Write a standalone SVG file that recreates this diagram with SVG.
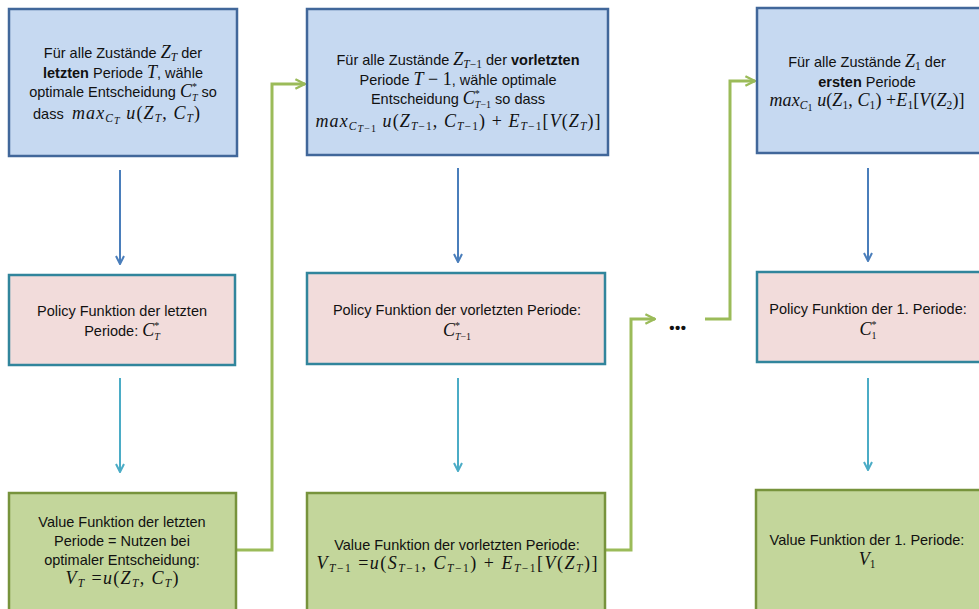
<svg xmlns="http://www.w3.org/2000/svg" width="979" height="609" viewBox="0 0 979 609">
<style>
.bb{fill:#c6d9f1;stroke:#41679a;stroke-width:2.5}
.pb{fill:#f2dcdb;stroke:#31859c;stroke-width:2.5}
.gb{fill:#c3d69b;stroke:#77933c;stroke-width:2.5}
.t{font-family:"Liberation Sans",Arial,sans-serif;font-size:14.5px;fill:#111;text-anchor:middle}
.st{text-anchor:start}
.b{font-weight:bold}
.m{font-family:"Liberation Serif","Times New Roman",serif;font-style:italic;font-size:18px}
.r{font-family:"Liberation Serif","Times New Roman",serif;font-style:normal;font-size:18px}
.s{font-size:11.5px}
.ss{font-size:10px}
.ab{stroke:#4a7ebb;stroke-width:2;fill:none}
.ac{stroke:#4bacc6;stroke-width:2;fill:none}
.ag{stroke:#9bbb59;stroke-width:3;fill:none}
</style>
<defs>
<marker id="mb" viewBox="0 0 10 10" refX="9" refY="5" markerWidth="5" markerHeight="5" orient="auto" markerUnits="strokeWidth"><path d="M1,1 L9,5 L1,9" fill="none" stroke="#4a7ebb" stroke-width="2"/></marker>
<marker id="mc" viewBox="0 0 10 10" refX="9" refY="5" markerWidth="5" markerHeight="5" orient="auto" markerUnits="strokeWidth"><path d="M1,1 L9,5 L1,9" fill="none" stroke="#4bacc6" stroke-width="2"/></marker>
<marker id="mg" viewBox="0 0 10 10" refX="9" refY="5" markerWidth="4" markerHeight="4" orient="auto" markerUnits="strokeWidth"><path d="M1,1 L9,5 L1,9" fill="none" stroke="#9bbb59" stroke-width="2"/></marker>
</defs>
<rect width="979" height="609" fill="#fff"/>

<g id="connectors">
<path class="ab" d="M120,170 V264" marker-end="url(#mb)"/>
<path class="ac" d="M120,378 V472" marker-end="url(#mc)"/>
<path class="ab" d="M458,168 V262" marker-end="url(#mb)"/>
<path class="ac" d="M458,378 V471" marker-end="url(#mc)"/>
<path class="ab" d="M868,168 V261" marker-end="url(#mb)"/>
<path class="ac" d="M868,378 V470" marker-end="url(#mc)"/>
<path class="ag" d="M236,550 H272 V84 H305" marker-end="url(#mg)"/>
<path class="ag" d="M605,550 H631 V319 H655" marker-end="url(#mg)"/>
<path class="ag" d="M705,319 H730 V81 H755" marker-end="url(#mg)"/>
</g>

<g id="dots"><text x="678" y="333" class="t b" style="font-size:15px;letter-spacing:0.5px">•••</text></g>

<g id="box1">
<rect class="bb" x="9" y="9" width="228" height="147"/>
<text class="t" x="123" y="58">Für alle Zustände <tspan class="m">Z</tspan><tspan class="m s" dy="3">T</tspan><tspan dy="-3"> der</tspan></text>
<text class="t" x="123" y="78"><tspan class="b">letzten</tspan> Periode <tspan class="m">T</tspan>, wähle</text>
<text class="t" x="123" y="97">optimale Entscheidung <tspan class="m">C</tspan><tspan class="r ss" dy="-7">*</tspan><tspan class="m ss" dx="-5" dy="11">T</tspan><tspan dy="-4"> so</tspan></text>
<text class="t st" x="33" y="119">dass</text>
<text class="t st" x="72" y="119" textLength="128" lengthAdjust="spacing"><tspan class="m">max</tspan><tspan class="m s" dy="3">C</tspan><tspan class="m ss" dy="2">T</tspan><tspan class="m" dy="-5"> u</tspan><tspan class="r">(</tspan><tspan class="m">Z</tspan><tspan class="m s" dy="3">T</tspan><tspan class="r" dy="-3">, </tspan><tspan class="m">C</tspan><tspan class="m s" dy="3">T</tspan><tspan class="r" dy="-3">)</tspan></text>
</g>

<g id="box2">
<rect class="bb" x="307" y="9" width="301" height="146"/>
<text class="t" x="458" y="65">Für alle Zustände <tspan class="m">Z</tspan><tspan class="m s" dy="3">T</tspan><tspan class="r s">−1</tspan><tspan dy="-3"> der </tspan><tspan class="b">vorletzten</tspan></text>
<text class="t" x="458" y="85">Periode <tspan class="m">T</tspan><tspan class="r"> − 1</tspan>, wähle optimale</text>
<text class="t" x="458" y="104">Entscheidung <tspan class="m">C</tspan><tspan class="r ss" dy="-7">*</tspan><tspan class="m ss" dx="-5" dy="11">T</tspan><tspan class="r ss">−1</tspan><tspan dy="-4"> so dass</tspan></text>
<text class="t" x="458" y="127" textLength="285" lengthAdjust="spacing"><tspan class="m">max</tspan><tspan class="m s" dy="3">C</tspan><tspan class="m ss" dy="2">T</tspan><tspan class="r ss">−1</tspan><tspan class="m" dy="-5"> u</tspan><tspan class="r">(</tspan><tspan class="m">Z</tspan><tspan class="m s" dy="3">T</tspan><tspan class="r s">−1</tspan><tspan class="r" dy="-3">, </tspan><tspan class="m">C</tspan><tspan class="m s" dy="3">T</tspan><tspan class="r s">−1</tspan><tspan class="r" dy="-3">) + </tspan><tspan class="m">E</tspan><tspan class="m s" dy="3">T</tspan><tspan class="r s">−1</tspan><tspan class="r" dy="-3">[</tspan><tspan class="m">V</tspan><tspan class="r">(</tspan><tspan class="m">Z</tspan><tspan class="m s" dy="3">T</tspan><tspan class="r" dy="-3">)]</tspan></text>
</g>

<g id="box3">
<rect class="bb" x="757" y="8" width="240" height="145"/>
<text class="t" x="867" y="67">Für alle Zustände <tspan class="m">Z</tspan><tspan class="r s" dy="3">1</tspan><tspan dy="-3"> der</tspan></text>
<text class="t" x="867" y="87"><tspan class="b">ersten</tspan> Periode</text>
<text class="t" x="867" y="106" textLength="195" lengthAdjust="spacing"><tspan class="m">max</tspan><tspan class="m s" dy="3">C</tspan><tspan class="r ss" dy="2">1</tspan><tspan class="m" dy="-5"> u</tspan><tspan class="r">(</tspan><tspan class="m">Z</tspan><tspan class="r s" dy="3">1</tspan><tspan class="r" dy="-3">, </tspan><tspan class="m">C</tspan><tspan class="r s" dy="3">1</tspan><tspan class="r" dy="-3">) +</tspan><tspan class="m">E</tspan><tspan class="r s" dy="3">1</tspan><tspan class="r" dy="-3">[</tspan><tspan class="m">V</tspan><tspan class="r">(</tspan><tspan class="m">Z</tspan><tspan class="r s" dy="3">2</tspan><tspan class="r" dy="-3">)]</tspan></text>
</g>

<g id="policy1">
<rect class="pb" x="9" y="275" width="226" height="90"/>
<text class="t" x="122" y="316">Policy Funktion der letzten</text>
<text class="t" x="122" y="336">Periode: <tspan class="m">C</tspan><tspan class="r ss" dy="-7">*</tspan><tspan class="m ss" dx="-5" dy="11">T</tspan></text>
</g>

<g id="policy2">
<rect class="pb" x="307" y="273" width="298" height="91"/>
<text class="t" x="457" y="315">Policy Funktion der vorletzten Periode:</text>
<text class="t" x="457" y="336"><tspan class="m">C</tspan><tspan class="r ss" dy="-7">*</tspan><tspan class="m ss" dx="-5" dy="11">T</tspan><tspan class="r ss">−1</tspan></text>
</g>

<g id="policy3">
<rect class="pb" x="757" y="272" width="240" height="90"/>
<text class="t" x="868" y="314">Policy Funktion der 1.  Periode:</text>
<text class="t" x="868" y="335"><tspan class="m">C</tspan><tspan class="r ss" dy="-7">*</tspan><tspan class="r ss" dx="-5" dy="11">1</tspan></text>
</g>

<g id="value1">
<rect class="gb" x="9" y="493" width="227" height="130"/>
<text class="t" x="122" y="527">Value Funktion der letzten</text>
<text class="t" x="122" y="546">Periode = Nutzen bei</text>
<text class="t" x="122" y="565">optimaler Entscheidung:</text>
<text class="t" x="122" y="584" textLength="113" lengthAdjust="spacing"><tspan class="m">V</tspan><tspan class="m s" dy="3">T</tspan><tspan class="r" dy="-3"> =</tspan><tspan class="m">u</tspan><tspan class="r">(</tspan><tspan class="m">Z</tspan><tspan class="m s" dy="3">T</tspan><tspan class="r" dy="-3">, </tspan><tspan class="m">C</tspan><tspan class="m s" dy="3">T</tspan><tspan class="r" dy="-3">)</tspan></text>
</g>

<g id="value2">
<rect class="gb" x="307" y="493" width="298" height="130"/>
<text class="t" x="457" y="550">Value Funktion der vorletzten Periode:</text>
<text class="t" x="457" y="569" textLength="281" lengthAdjust="spacing"><tspan class="m">V</tspan><tspan class="m s" dy="3">T</tspan><tspan class="r s">−1</tspan><tspan class="r" dy="-3"> =</tspan><tspan class="m">u</tspan><tspan class="r">(</tspan><tspan class="m">S</tspan><tspan class="m s" dy="3">T</tspan><tspan class="r s">−1</tspan><tspan class="r" dy="-3">, </tspan><tspan class="m">C</tspan><tspan class="m s" dy="3">T</tspan><tspan class="r s">−1</tspan><tspan class="r" dy="-3">) + </tspan><tspan class="m">E</tspan><tspan class="m s" dy="3">T</tspan><tspan class="r s">−1</tspan><tspan class="r" dy="-3">[</tspan><tspan class="m">V</tspan><tspan class="r">(</tspan><tspan class="m">Z</tspan><tspan class="m s" dy="3">T</tspan><tspan class="r" dy="-3">)]</tspan></text>
</g>

<g id="value3">
<rect class="gb" x="756" y="490" width="240" height="130"/>
<text class="t" x="867" y="545">Value Funktion der 1. Periode:</text>
<text class="t" x="867" y="565"><tspan class="m">V</tspan><tspan class="r s" dy="3">1</tspan></text>
</g>
</svg>
